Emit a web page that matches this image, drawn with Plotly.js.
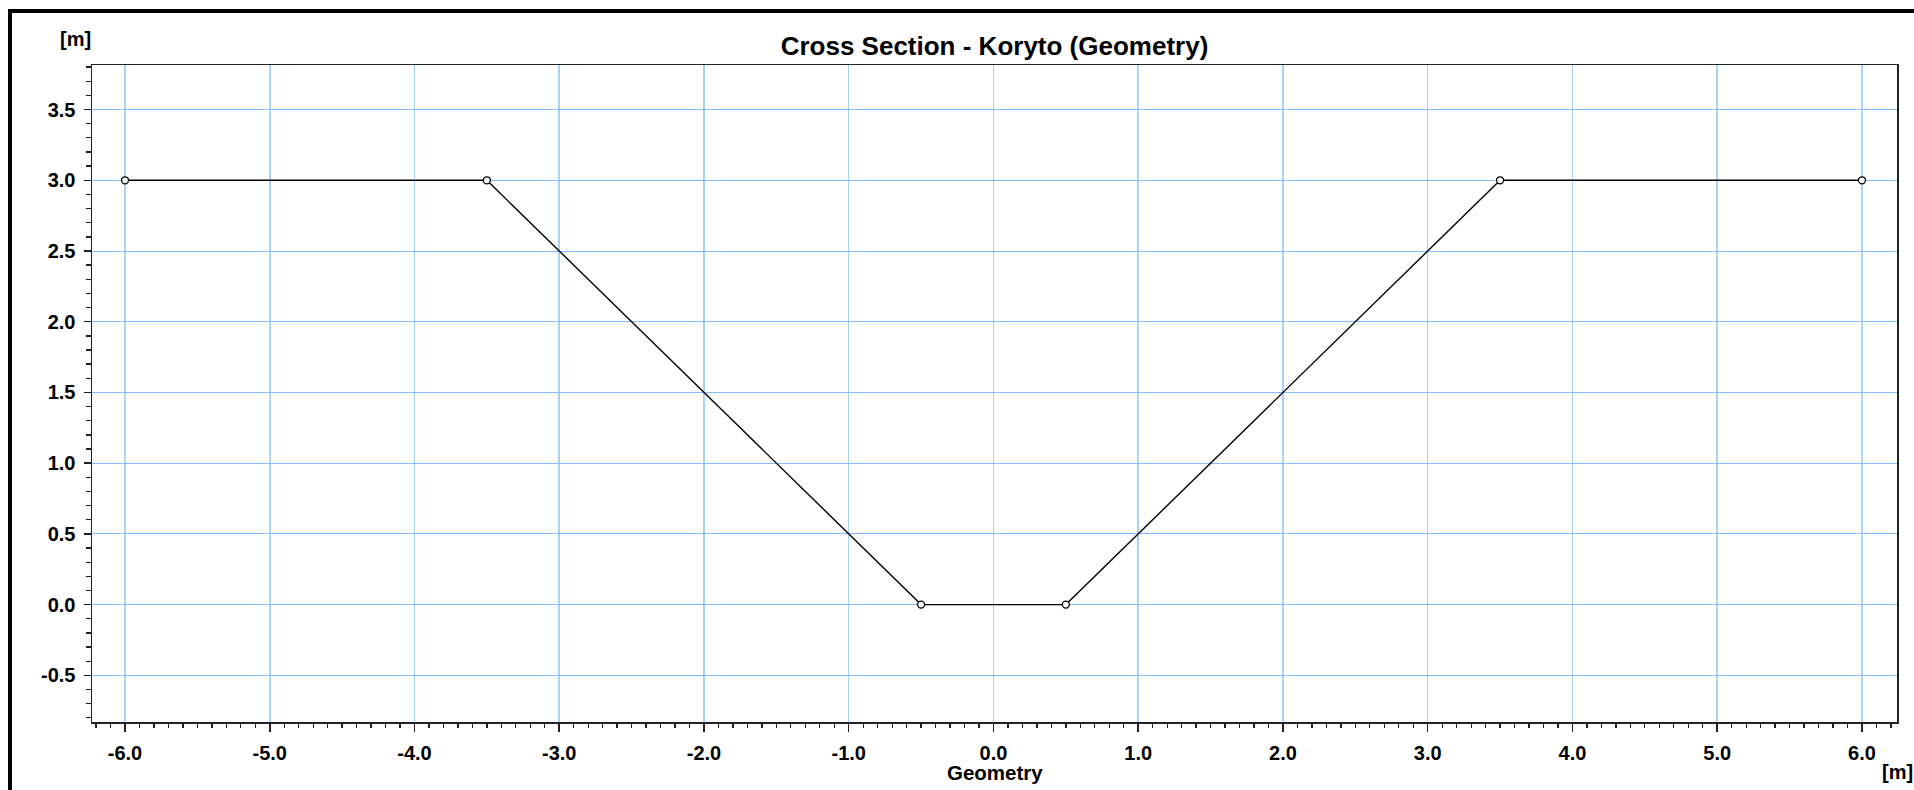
<!DOCTYPE html>
<html>
<head>
<meta charset="utf-8">
<script src="https://cdn.plot.ly/plotly-3.0.1.min.js"></script>
<style>
  html, body { margin: 0; padding: 0; background: #fff; }
  #chart { width: 1914px; height: 790px; }
</style>
</head>
<body>
<div id="chart"></div>
<script>
// Data
const stationX = [-6.0, -3.5, -0.5, 0.5, 3.5, 6.0];
const elevationY = [3.0, 3.0, 0.0, 0.0, 3.0, 3.0];

const xTickVals = [-6, -5, -4, -3, -2, -1, 0, 1, 2, 3, 4, 5, 6];
const xTickText = ["-6.0", "-5.0", "-4.0", "-3.0", "-2.0", "-1.0", "0.0", "1.0", "2.0", "3.0", "4.0", "5.0", "6.0"];
const yTickVals = [-0.5, 0, 0.5, 1, 1.5, 2, 2.5, 3, 3.5];
const yTickText = ["-0.5", "0.0", "0.5", "1.0", "1.5", "2.0", "2.5", "3.0", "3.5"];

const titleText = "Cross Section - Koryto (Geometry)";
const xTitle = "Geometry";
const unitLabel = "[m]";

// layout geometry (pixels)
const W = 1914, H = 790;
const M = { l: 92, r: 17, t: 65, b: 68 };
const pw = W - M.l - M.r, ph = H - M.t - M.b;
const px2x = p => (p - M.l) / pw;
const py2y = p => 1 - (p - M.t) / ph;

const FONT = "Liberation Sans, Arial, sans-serif";
const gridX = "#a9d2fb";
const gridY = "#86bdf6";

const trace = {
  type: "scatter",
  mode: "lines+markers",
  x: stationX,
  y: elevationY,
  line: { color: "#000", width: 1.4 },
  marker: { symbol: "circle", size: 7, color: "#fff", line: { color: "#000", width: 1.3 } },
  hoverinfo: "x+y",
  showlegend: false,
  cliponaxis: false
};

const layout = {
  width: W, height: H,
  margin: M,
  paper_bgcolor: "#fff",
  plot_bgcolor: "#fff",
  font: { family: FONT, color: "#000", size: 20, weight: 700 },
  title: {
    text: titleText,
    font: { family: FONT, size: 26, weight: 700, color: "#000" },
    x: 0.5, xref: "paper", xanchor: "center",
    y: 1 - 46 / H, yref: "container", yanchor: "middle"
  },
  xaxis: {
    range: [-6.228, 6.242],
    tickmode: "array", tickvals: xTickVals, ticktext: xTickText,
    ticks: "outside", ticklen: 8, tickwidth: 1.5, tickcolor: "#222",
    ticklabelstandoff: 4,
    tickfont: { family: FONT, size: 20, weight: 700, color: "#000" },
    showline: true, linecolor: "#222", linewidth: 1.5, mirror: true,
    showgrid: true, gridcolor: gridX, gridwidth: 1.5,
    zeroline: false,
    minor: { dtick: 0.1, tick0: 0, ticks: "outside", ticklen: 4, tickwidth: 1.3, tickcolor: "#222", showgrid: false },
    automargin: false
  },
  yaxis: {
    range: [-0.83, 3.815],
    tickmode: "array", tickvals: yTickVals, ticktext: yTickText,
    ticks: "outside", ticklen: 7, tickwidth: 1.5, tickcolor: "#222",
    ticklabelstandoff: 4,
    tickfont: { family: FONT, size: 20, weight: 700, color: "#000" },
    showline: true, linecolor: "#222", linewidth: 1.5, mirror: true,
    showgrid: true, gridcolor: gridY, gridwidth: 1,
    zeroline: false,
    minor: { dtick: 0.1, tick0: 0, ticks: "outside", ticklen: 4.5, tickwidth: 1.3, tickcolor: "#222", showgrid: false },
    automargin: false
  },
  annotations: [
    // x-axis title
    { text: xTitle, xref: "paper", yref: "paper", x: 0.5, y: py2y(772),
      xanchor: "center", yanchor: "middle", showarrow: false,
      font: { family: FONT, size: 20.5, weight: 700, color: "#000" } },
    // unit labels
    { text: unitLabel, xref: "paper", yref: "paper", x: px2x(75), y: py2y(39),
      xanchor: "center", yanchor: "middle", showarrow: false,
      font: { family: FONT, size: 20, weight: 700, color: "#000" } },
    { text: unitLabel, xref: "paper", yref: "paper", x: px2x(1897), y: py2y(772),
      xanchor: "center", yanchor: "middle", showarrow: false,
      font: { family: FONT, size: 20, weight: 700, color: "#000" } }
  ],
  shapes: [
    { type: "line", xref: "paper", yref: "paper", x0: px2x(10), x1: px2x(10), y0: py2y(9), y1: py2y(H + 2),
      line: { color: "#000", width: 4 } },
    { type: "line", xref: "paper", yref: "paper", x0: px2x(8), x1: px2x(W + 2), y0: py2y(11), y1: py2y(11),
      line: { color: "#000", width: 4 } }
  ]
};

Plotly.newPlot("chart", [trace], layout, { displayModeBar: false, staticPlot: true });
</script>
</body>
</html>
